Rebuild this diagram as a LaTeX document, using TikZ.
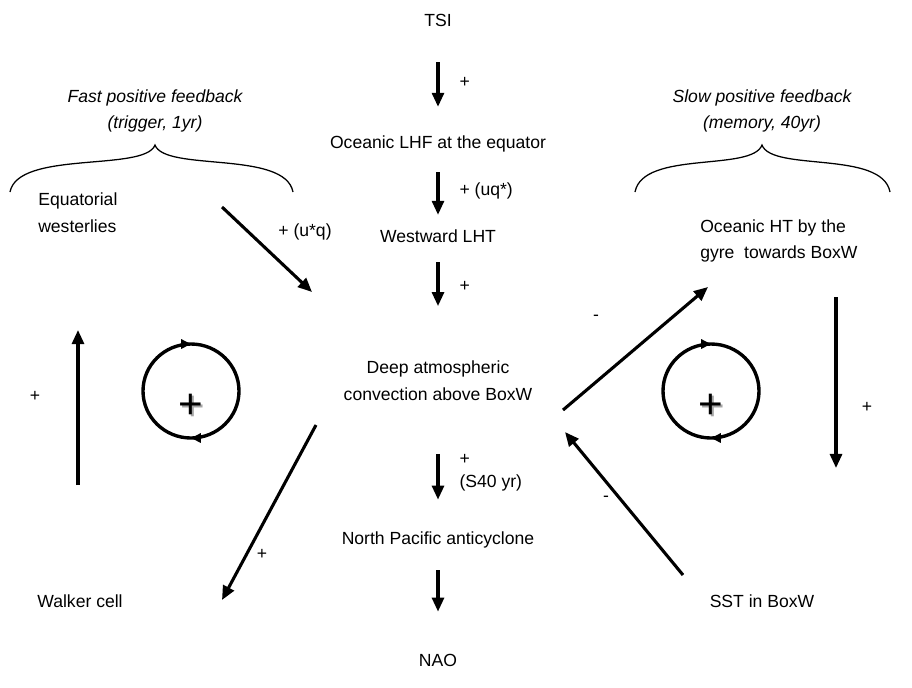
\documentclass[tikz,border=0pt]{standalone}
\usepackage{fontspec}
\setmainfont{Liberation Sans}
\usetikzlibrary{arrows.meta,decorations.markings}

\tikzset{
  lbl/.style={inner sep=0pt, text height=9pt, text depth=2.5pt},
  flow/.style={line width=2.2pt, -{Triangle[length=10pt,width=8.5pt]}},
  brace/.style={line width=0.9pt},
  loopc/.style={line width=2.4pt,
    postaction={decorate, decoration={markings,
      mark=at position 0.25 with {\arrow{Triangle[length=7pt,width=6.5pt]}},
      mark=at position 0.75 with {\arrow{Triangle[length=7pt,width=6.5pt]}}}}},
}
\newcommand{\bigplus}[1]{%
  \node[text=black!35] at ([shift={(2,2)}]#1) {\fontsize{30}{30}\selectfont +};
  \node at (#1) {\fontsize{30}{30}\selectfont +};}

\begin{document}
\begin{tikzpicture}[x=0.025cm, y=-0.025cm, font=\fontsize{12.5}{19}\selectfont]

  \useasboundingbox (0,0) rectangle (912,687);

  % central chain
  \node[lbl] (tsi) at (438,22) {TSI};
  \node[lbl] (lhf) at (438,144) {Oceanic LHF at the equator};
  \node[lbl] (wlht) at (438,238) {Westward LHT};
  \node[inner sep=0pt, align=center] (deep) at (438,381) {Deep atmospheric\\convection above BoxW};
  \node[lbl] (npa) at (438,540) {North Pacific anticyclone};
  \node[lbl] (nao) at (438,662) {NAO};

  \draw[flow, shorten <=0.8cm, shorten >=0.72cm] (tsi) -- (lhf)
    node[midway, right=0.5cm, lbl] {+};
  \draw[flow, shorten <=0.5cm, shorten >=0.37cm] (lhf) -- (wlht)
    node[midway, right=0.5cm, lbl] {+ (uq*)};
  \draw[flow, shorten <=0.4cm, shorten >=1.37cm] (wlht) -- (deep)
    node[pos=0.35, right=0.5cm, lbl] {+};
  \draw[flow, shorten <=1.32cm, shorten >=0.8cm] (deep) -- (npa)
    node[pos=0.55, right=0.5cm, inner sep=0pt, align=left] {+\\[-3pt](S40 yr)};
  \draw[flow, shorten <=0.55cm, shorten >=1.05cm] (npa) -- (nao);

  % fast loop
  \node[font=\fontsize{12.5}{19}\selectfont\itshape, align=center, inner sep=0pt] (fast) at (155,111)
    {Fast positive feedback\\(trigger, 1yr)};
  \draw[brace] (10,192) .. controls (18,150) and (145,172) .. (155,145)
               .. controls (165,172) and (285,150) .. (293,192);
  \node[inner sep=0pt, align=left, anchor=west] (eqw) at (38,213) {Equatorial\\westerlies};
  \node[lbl] (walker) at (80,603) {Walker cell};
  \coordinate (eqw-a) at (222,207);
  \coordinate (eqw-b) at (312,292);
  \draw[flow] (eqw-a) -- (eqw-b);
  \node[lbl] (eqw-l) at (305,232) {+ (u*q)};
  \coordinate (wk-a) at (316,425);
  \coordinate (wk-b) at (222,600);
  \draw[flow] (wk-a) -- (wk-b);
  \node[lbl] (wk-l) at (262,555) {+};
  \coordinate (up-a) at (78,485);
  \coordinate (up-b) at (78,330);
  \draw[flow] (up-a) -- (up-b);
  \node[lbl] (up-l) at (35,397) {+};
  \coordinate (fastc) at (191,391);
  \draw[loopc] (fastc) ++(48,0) arc[start angle=0, end angle=360, x radius=48, y radius=47];
  \bigplus{191,406}

  % slow loop
  \node[font=\fontsize{12.5}{19}\selectfont\itshape, align=center, inner sep=0pt] (slow) at (762,111)
    {Slow positive feedback\\(memory, 40yr)};
  \draw[brace] (635,192) .. controls (643,150) and (752,172) .. (762,145)
               .. controls (772,172) and (882,150) .. (890,192);
  \node[inner sep=0pt, align=left, anchor=west] (oht) at (700,241) {Oceanic HT by the\\gyre\ \ towards BoxW};
  \node[lbl] (sst) at (762,603) {SST in BoxW};
  \coordinate (oht-a) at (563,410);
  \coordinate (oht-b) at (708,287);
  \draw[flow] (oht-a) -- (oht-b);
  \node[lbl] (oht-l) at (596,316) {-};
  \coordinate (sst-a) at (683,575);
  \coordinate (sst-b) at (565,432);
  \draw[flow] (sst-a) -- (sst-b);
  \node[lbl] (sst-l) at (606,497) {-};
  \coordinate (dn-a) at (836,297);
  \coordinate (dn-b) at (836,468);
  \draw[flow] (dn-a) -- (dn-b);
  \node[lbl] (dn-l) at (867,408) {+};
  \coordinate (slowc) at (711,391);
  \draw[loopc] (slowc) ++(48,0) arc[start angle=0, end angle=360, x radius=48, y radius=47];
  \bigplus{711,406}

\end{tikzpicture}
\end{document}
